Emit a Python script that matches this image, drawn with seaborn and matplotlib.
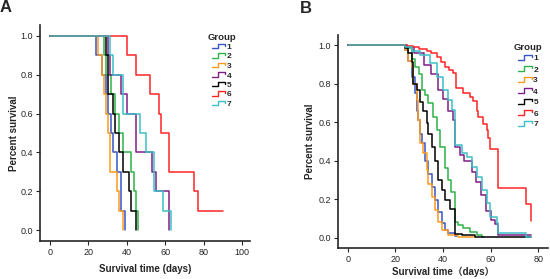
import numpy as np
import pandas as pd
import matplotlib
matplotlib.use("Agg")
import matplotlib.pyplot as plt
import seaborn as sns
from matplotlib.lines import Line2D
from matplotlib.legend_handler import HandlerBase

# ---------------- data ----------------
groups = ["1", "2", "3", "4", "5", "6", "7"]
colors = ["#3556c8", "#2db34a", "#ff9a1c", "#7d1f86", "#000000", "#ff2424", "#3cc0c8"]

# Panel A: death times (n = 10 per group); curve end time (censoring)
a_deaths = {
    "1": [24, 27, 29, 30, 32, 33, 35, 37, 37, 39],
    "2": [28, 29, 32, 34, 36, 38, 42, 43.5, 45, 46],
    "3": [25, 27, 28, 29, 30, 31, 31, 35, 36, 38],
    "4": [30, 31, 37, 40, 45, 45, 53, 55, 62, 62],
    "5": [29, 30, 30, 33, 34, 36, 38, 41, 42, 45],
    "6": [40, 45, 52, 57, 58, 62, 62, 75, 77],
    "7": [31, 33, 38, 38, 47, 50, 54, 54, 59, 63],
}
a_n = 10
a_end = {"6": 90}

# Panel B: Kaplan-Meier step points (time, survival)
b_time = {
    "1": [0, 24, 25.5, 26.9, 28.3, 29, 29.7, 30.3, 31, 32.4, 33.8, 35.2, 36.6, 38, 39.4, 40.8, 42.2, 45, 46],
    "2": [0, 24, 26.9, 28.3, 30, 31, 32.4, 33.8, 35.9, 37.3, 38.7, 40.8, 42.2, 43.5, 45, 46.4, 48.5, 51.3, 54.1, 56.2, 57],
    "3": [0, 24, 25.2, 26.9, 27.6, 29, 29.7, 30.3, 31.7, 33.1, 33.8, 35.2, 36.6, 38, 39.4, 42.2, 46.4, 53],
    "4": [0, 25, 28, 32, 35, 38, 40, 42, 44, 45, 47, 49, 52, 54, 56, 58, 60, 62, 63, 75, 77],
    "5": [0, 24, 25.5, 26.9, 27.6, 29, 30.3, 31.7, 33.1, 33.8, 35.2, 36.6, 38, 39.4, 40.8, 42.9, 45, 47.8, 53.4, 77],
    "6": [0, 25, 27.5, 30, 33.1, 35, 37.3, 39, 40.8, 42.5, 44.3, 45.5, 48.5, 51.3, 52.7, 54.1, 54.8, 56.9, 58.3, 59, 59.7, 63, 75, 77, 77],
    "7": [0, 24, 27, 30.3, 34.5, 37.3, 40.1, 42.2, 43.6, 45, 47.8, 49.9, 52, 54.1, 56.2, 58.3, 59.7, 62.5, 63.2, 75, 77],
}
b_surv = {
    "1": [1, 0.976, 0.92, 0.837, 0.75, 0.66, 0.61, 0.54, 0.49, 0.40, 0.33, 0.265, 0.196, 0.135, 0.075, 0.04, 0.022, 0.01, 0.01],
    "2": [1, 0.985, 0.93, 0.89, 0.85, 0.77, 0.74, 0.70, 0.63, 0.56, 0.47, 0.36, 0.30, 0.24, 0.083, 0.066, 0.049, 0.031, 0.014, 0.003, 0.003],
    "3": [1, 0.976, 0.92, 0.89, 0.80, 0.716, 0.61, 0.49, 0.44, 0.35, 0.28, 0.21, 0.144, 0.083, 0.04, 0.014, 0.005, 0.005],
    "4": [1, 0.99, 0.96, 0.90, 0.85, 0.77, 0.72, 0.66, 0.61, 0.47, 0.43, 0.40, 0.34, 0.29, 0.22, 0.14, 0.09, 0.07, 0.013, 0.013, 0.013],
    "5": [1, 0.984, 0.958, 0.915, 0.80, 0.77, 0.707, 0.66, 0.594, 0.54, 0.47, 0.40, 0.30, 0.25, 0.196, 0.15, 0.02, 0.014, 0.003, 0.003],
    "6": [1, 0.998, 0.99, 0.98, 0.972, 0.96, 0.94, 0.915, 0.889, 0.87, 0.854, 0.78, 0.75, 0.73, 0.71, 0.66, 0.63, 0.59, 0.56, 0.52, 0.46, 0.256, 0.173, 0.087, 0.087],
    "7": [1, 0.99, 0.97, 0.95, 0.906, 0.837, 0.768, 0.716, 0.664, 0.482, 0.438, 0.42, 0.369, 0.317, 0.248, 0.178, 0.109, 0.075, 0.023, 0.005, 0.005],
}

# ---------------- build tables ----------------
rows_a = []
for g in groups:
    d = np.sort(np.array(a_deaths[g], dtype=float))
    rows_a.append((g, 0.0, 1.0))
    for t in np.unique(d):
        rows_a.append((g, t, 1.0 - np.sum(d <= t) / a_n))
    if g in a_end:
        rows_a.append((g, float(a_end[g]), 1.0 - len(d) / a_n))
df_a = pd.DataFrame(rows_a, columns=["group", "time", "survival"])

rows_b = []
for g in groups:
    for t, s in zip(b_time[g], b_surv[g]):
        rows_b.append((g, t, s))
df_b = pd.DataFrame(rows_b, columns=["group", "time", "survival"])

# ---------------- style ----------------
sns.set_style("ticks")
plt.rcParams["font.family"] = ["Liberation Sans", "Noto Sans CJK SC", "DejaVu Sans"]

palette = dict(zip(groups, colors))


class StepHandler(HandlerBase):
    def create_artists(self, legend, orig_handle, xdescent, ydescent, width, height, fontsize, trans):
        x0, y0 = -xdescent, -ydescent
        xs = np.array([0.0, 0.45, 0.45, 1.0, 1.0]) * width + x0
        ys = np.array([0.1, 0.1, 0.9, 0.9, 0.55]) * height + y0
        ln = Line2D(xs, ys, color=orig_handle.get_color(), lw=1.0)
        ln.set_transform(trans)
        return [ln]


fig = plt.figure(figsize=(5.5, 2.79), dpi=100)
ax_a = fig.add_axes([40 / 550, 38 / 279, 209.7 / 550, 216 / 279])
ax_b = fig.add_axes([337.7 / 550, 31.3 / 279, 210.2 / 550, 212.7 / 279])

for ax, df, spacing, anchor in ((ax_a, df_a, 0.2, (0.97, 1.0)), (ax_b, df_b, 0.38, (1.01, 1.0))):
    sns.lineplot(data=df, x="time", y="survival", hue="group", hue_order=groups,
                 palette=palette, estimator=None, sort=False, drawstyle="steps-post",
                 lw=1.1, legend=False, ax=ax)
    sns.despine(ax=ax)
    for sp in ("left", "bottom"):
        ax.spines[sp].set_linewidth(1.2)
    ax.tick_params(axis="both", labelsize=6.5, length=3, width=0.8, pad=2)
    ax.set_yticks([0.0, 0.2, 0.4, 0.6, 0.8, 1.0])
    ax.set_yticklabels(["0.0", "0.2", "0.4", "0.6", "0.8", "1.0"])
    handles = [Line2D([], [], color=c) for c in colors]
    leg = ax.legend(handles, groups, handler_map={Line2D: StepHandler()},
                    title="Group", frameon=False, loc="upper right",
                    bbox_to_anchor=anchor,
                    fontsize=6, title_fontproperties={"weight": "bold", "size": 6.8},
                    handlelength=1.6, handleheight=0.7, handletextpad=0.2,
                    labelspacing=spacing)
    for t in leg.get_texts():
        t.set_fontweight("bold")

ax_a.set_xlim(-5.2, 104)
ax_a.set_ylim(-0.055, 1.055)
ax_a.set_xticks([0, 20, 40, 60, 80, 100])
ax_a.set_xlabel("Survival time (days)", fontsize=7, fontweight="bold", labelpad=5)
ax_a.set_ylabel("Percent survival", fontsize=7, fontweight="bold", labelpad=1)

ax_b.set_xlim(-4.2, 84)
ax_b.set_ylim(-0.052, 1.054)
ax_b.set_xticks([0, 20, 40, 60, 80])
ax_b.set_xlabel("Survival time（days）", fontsize=7, fontweight="bold", labelpad=2)
ax_b.set_ylabel("Percent survival", fontsize=7, fontweight="bold", labelpad=2)

fig.text(0 / 550, 1 - 0 / 279, "A", fontsize=12, fontweight="bold", va="top", ha="left")
fig.text(300 / 550, 1 - 1 / 279, "B", fontsize=12, fontweight="bold", va="top", ha="left")

fig.savefig("out.png", dpi=100)
